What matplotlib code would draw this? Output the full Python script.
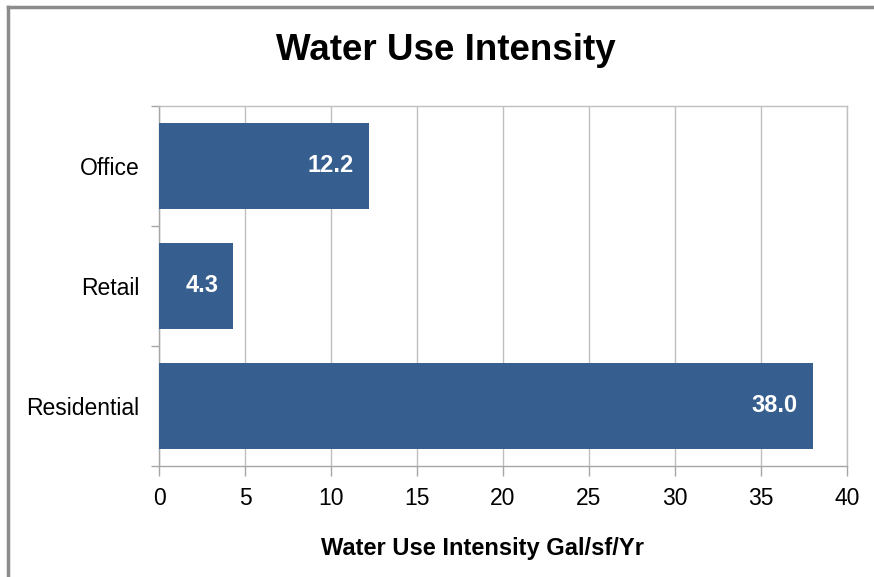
import matplotlib.pyplot as plt
from matplotlib.lines import Line2D

plt.rcParams['font.family'] = ['Liberation Sans', 'DejaVu Sans']

categories = ['Office', 'Retail', 'Residential']
values = [12.2, 4.3, 38.0]
xticks = [0, 5, 10, 15, 20, 25, 30, 35, 40]

bar_color = '#365F8F'
grid_color = '#BFBFBF'
axis_color = '#A6A6A6'

fig = plt.figure(figsize=(8.74, 5.77), dpi=100)
ax = fig.add_axes([159 / 874, 1 - 466 / 577, (847 - 159) / 874, (466 - 106) / 577])

ypos = list(range(len(categories)))
ax.barh(ypos, values, height=0.72, color=bar_color, zorder=3)

for y, v in zip(ypos, values):
    ax.text(v - 0.85, y, f'{v:.1f}', color='white', fontsize=17, fontweight='bold',
            ha='right', va='center', zorder=4)

ax.set_xlim(0, 40)
ax.set_ylim(len(categories) - 0.5, -0.5)
ax.set_xticks(xticks)
ax.set_xticklabels([str(t) for t in xticks], fontsize=16.5)
ax.set_yticks(ypos)
ax.set_yticklabels(categories, fontsize=16.5)
ax.tick_params(axis='y', length=0, pad=14)
ax.set_yticks([i - 0.5 for i in range(len(categories) + 1)], minor=True)
ax.tick_params(axis='y', which='minor', length=6, color=axis_color, width=1)
ax.tick_params(axis='x', length=7, color=axis_color, width=1, pad=8)

ax.xaxis.grid(True, color=grid_color, linewidth=1, zorder=0)
for side in ['left', 'bottom', 'top', 'right']:
    ax.spines[side].set_color(axis_color)
    ax.spines[side].set_linewidth(1)
ax.spines['top'].set_color(grid_color)
ax.spines['right'].set_color(grid_color)

ax.set_xlabel('Water Use Intensity Gal/sf/Yr', fontsize=17, fontweight='bold')
ax.xaxis.set_label_coords(0.4695, -0.229)
ax.xaxis.label.set_va('center')
fig.text(446 / 874, 1 - 51 / 577, 'Water Use Intensity', fontsize=26.5, fontweight='bold',
         ha='center', va='center')

# outer chart frame (top and left edges)
fig.add_artist(Line2D([8 / 874, 1], [1 - 7 / 577, 1 - 7 / 577], color='#8C8C8C', linewidth=2.5,
                      transform=fig.transFigure))
fig.add_artist(Line2D([8 / 874, 8 / 874], [0, 1 - 7 / 577], color='#8C8C8C', linewidth=2.5,
                      transform=fig.transFigure))

fig.savefig('out.png', dpi=100)
